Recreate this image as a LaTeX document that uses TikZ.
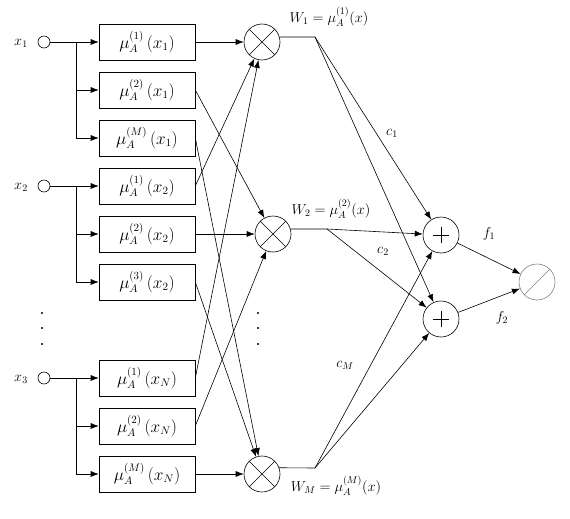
\documentclass[tikz,border=0pt]{standalone}
\usepackage{amsmath}
\usepackage{xcolor}
\usepackage{tikz}
\usetikzlibrary{arrows.meta}

\tikzset{
	mfbox/.style={draw, minimum width=96pt, minimum height=36pt, inner sep=0pt, font=\fontsize{16}{18}\selectfont},
	innode/.style={draw, circle, minimum size=12pt, inner sep=0pt},
	prodnode/.style={draw, circle, minimum size=36pt, inner sep=0pt,
		path picture={\draw (path picture bounding box.south west) -- (path picture bounding box.north east)
			(path picture bounding box.north west) -- (path picture bounding box.south east);}},
	sumnode/.style={draw, circle, minimum size=36pt, inner sep=0pt,
		path picture={\draw ([xshift=-8pt]path picture bounding box.center) -- ([xshift=8pt]path picture bounding box.center)
			([yshift=-8pt]path picture bounding box.center) -- ([yshift=8pt]path picture bounding box.center);}},
	divnode/.style={draw=gray, circle, minimum size=36pt, inner sep=0pt,
		path picture={\draw[gray] (path picture bounding box.south west) -- (path picture bounding box.north east);}},
	lbl/.style={font=\Large},
	xlbl/.style={font=\Large}
}

\begin{document}
\begin{tikzpicture}[x=1pt, y=-1pt, line width=0.6pt, >={Latex[length=8pt,width=6pt]}]
		\useasboundingbox (0,0) rectangle (570,519);

		\node[innode] (in1) at (44,42) {};
		\node[innode] (in2) at (44,186) {};
		\node[innode] (in3) at (44,378) {};
		\node[xlbl] (x1) at (21,43) {$x_1$};
		\node[xlbl] (x2) at (21,187) {$x_2$};
		\node[xlbl] (x3) at (21,379) {$x_3$};

		\node[mfbox] (b1) at (147,42) {$\mu_A^{(1)}\left(x_1\right)$};
		\node[mfbox] (b2) at (147,90) {$\mu_A^{(2)}\left(x_1\right)$};
		\node[mfbox] (b3) at (147,138) {$\mu_A^{(M)}\left(x_1\right)$};
		\node[mfbox] (b4) at (147,186) {$\mu_A^{(1)}\left(x_2\right)$};
		\node[mfbox] (b5) at (147,234) {$\mu_A^{(2)}\left(x_2\right)$};
		\node[mfbox] (b6) at (147,282) {$\mu_A^{(3)}\left(x_2\right)$};
		\node[mfbox] (b7) at (147,378) {$\mu_A^{(1)}\left(x_N\right)$};
		\node[mfbox] (b8) at (147,426) {$\mu_A^{(2)}\left(x_N\right)$};
		\node[mfbox] (b9) at (147,474) {$\mu_A^{(M)}\left(x_N\right)$};

		\node[prodnode] (p1) at (262,42) {};
		\node[prodnode] (p2) at (273,234) {};
		\node[prodnode] (p3) at (262,474) {};

		\node[sumnode] (s1) at (441,235) {};
		\node[sumnode] (s2) at (441,319) {};
		\node[divnode] (o) at (537,282) {};

		\coordinate (j1) at (76,42);
		\coordinate (j2) at (76,186);
		\coordinate (j3) at (76,378);
		\coordinate (w1) at (315,37);
		\coordinate (w2) at (327,229);
		\coordinate (w3) at (315,468);

		\foreach \i/\k in {1/1, 2/4, 3/7}{
			\pgfmathtruncatemacro{\ka}{\k+1}
			\pgfmathtruncatemacro{\kb}{\k+2}
			\draw[->] (in\i) -- (b\k);
			\draw[->] (j\i) |- (b\ka);
			\draw[->] (j\i) |- (b\kb);
		}

		\foreach \k/\p in {1/1, 2/2, 3/3, 4/1, 5/2, 6/3, 7/1, 8/2, 9/3}{
			\draw[->] (b\k.east) -- (p\p);
		}

		\draw (p1.16) -- (w1);
		\draw (p2.16) -- (w2);
		\draw (p3.20) -- (w3);
		\foreach \w in {w1, w2, w3}{
			\draw[->] (\w) -- (s1);
			\draw[->] (\w) -- (s2);
		}
		\draw[->] (s1) -- (o);
		\draw[->] (s2) -- (o);

		\node[lbl] (lw1) at (329,17) {$W_1=\mu_A^{(1)}(x)$};
		\node[lbl] (lw2) at (331,209) {$W_2=\mu_A^{(2)}(x)$};
		\node[lbl] (lw3) at (336,486) {$W_M=\mu_A^{(M)}(x)$};
		\node[lbl] (c1) at (392,133) {$c_1$};
		\node[lbl] (c2) at (383,251) {$c_2$};
		\node[lbl] (cM) at (345,365) {$c_M$};
		\node[lbl] (f1) at (489,234) {$f_1$};
		\node[lbl] (f2) at (502,318) {$f_2$};

		\foreach \y in {313, 328, 344}{
			\fill (42,\y) circle (1.2pt);
			\fill (258,\y) circle (1.2pt);
		}
	\end{tikzpicture}
\end{document}
